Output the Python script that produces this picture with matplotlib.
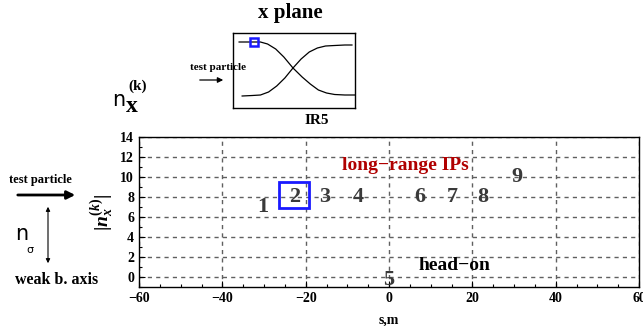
import matplotlib.pyplot as plt
from matplotlib.patches import Rectangle
from matplotlib.ticker import MultipleLocator

# interaction points: index, position s [m], |n_x^(k)|
ip_labels = ["1", "2", "3", "4", "5", "6", "7", "8", "9"]
ip_s = [-30.2, -22.7, -15.4, -7.4, 0.0, 7.4, 15.2, 22.6, 30.6]
ip_n = [7.0, 8.0, 8.0, 8.0, -0.3, 8.0, 8.0, 8.0, 10.0]

# sketch of the two beam orbits around IR5
orb1_s = [-54, -43, -33, -26, -18, -10, -1.0, 8, 16, 24, 32, 40, 50, 60]
orb1_x = [66, 66, 66, 64, 59, 51, 40, 31, 24, 18, 15, 13.5, 13, 13]
orb2_s = [-51, -41, -33, -25, -17, -9, -1.0, 7, 15, 23, 31, 40, 50, 57]
orb2_x = [12, 12.5, 13, 16, 22, 30, 40, 49, 56, 60, 62, 62.5, 63, 63]

xticks = [-60, -40, -20, 0, 20, 40, 60]
yticks = [0, 2, 4, 6, 8, 10, 12, 14]

serif = "Liberation Serif"
plt.rcParams["font.family"] = serif
plt.rcParams["font.weight"] = "bold"
plt.rcParams["mathtext.fontset"] = "custom"
plt.rcParams["mathtext.rm"] = "Liberation Serif:bold"
plt.rcParams["mathtext.it"] = "Liberation Serif:bold:italic"
plt.rcParams["mathtext.bf"] = "Liberation Serif:bold"

fig = plt.figure(figsize=(6.43, 3.26), dpi=100)

# main plot
ax = fig.add_axes([139 / 643, 1 - 287 / 326, 500 / 643, 150 / 326])
ax.set_xlim(-60, 60)
ax.set_ylim(-1, 14)
ax.set_xticks(xticks)
ax.set_yticks(yticks)
ax.xaxis.set_minor_locator(MultipleLocator(5))
ax.yaxis.set_minor_locator(MultipleLocator(1))
ax.tick_params(which="both", direction="in", labelsize=10, width=0.8)
ax.tick_params(which="major", length=4)
ax.tick_params(which="minor", length=2)
for lab in ax.get_xticklabels() + ax.get_yticklabels():
    lab.set_fontweight("bold")
ax.grid(True, which="major", color="#606060", linestyle=(0, (3, 3)), linewidth=1.0)
for sp in ax.spines.values():
    sp.set_linewidth(1.0)

for lab, s, n in zip(ip_labels, ip_s, ip_n):
    ax.text(s, n, lab, fontsize=16, fontweight="bold", color="#3a3a3a",
            ha="center", va="center")

# highlight the IP the test particle sits at
ax.add_patch(Rectangle((-26.4, 6.9), 7.2, 2.6, fill=False,
                       edgecolor="#1a1aff", linewidth=2.0, zorder=5))

ax.text(4, 11.2, "long\u2212range IPs", color="#b00000", fontsize=14,
        fontweight="bold", ha="center", va="center")
ax.text(15.8, 1.2, "head\u2212on", color="black", fontsize=14,
        fontweight="bold", ha="center", va="center")

ax.set_xlabel("s,m", fontsize=10, fontweight="bold", labelpad=6)
ax.set_ylabel(r"$|n_x^{(k)}|$", fontsize=14, labelpad=3)

# inset orbit sketch
ins = fig.add_axes([233 / 643, 1 - 108 / 326, 122 / 643, 75 / 326])
ins.set_xlim(-60, 60)
ins.set_ylim(0, 75)
ins.set_xticks([])
ins.set_yticks([])
for sp in ins.spines.values():
    sp.set_linewidth(1.0)
ins.plot(orb1_s, orb1_x, color="black", linewidth=0.9)
ins.plot(orb2_s, orb2_x, color="black", linewidth=0.9)
ins.plot([-39.3], [66], marker="s", markersize=6,
         markerfacecolor="none", markeredgecolor="#1a1aff", markeredgewidth=1.8)

fig.text(290 / 643, 1 - 13 / 326, "x plane", fontsize=15, fontweight="bold",
         ha="center", va="center")
fig.text(317 / 643, 1 - 120 / 326, "IR5", fontsize=11, fontweight="bold",
         ha="center", va="center")
fig.text(218 / 643, 1 - 67 / 326, "test particle", fontsize=8, fontweight="bold",
         ha="center", va="center")

fig.text(125 / 643, 1 - 100 / 326, "n", family="DejaVu Sans", fontsize=15,
         fontweight="normal", ha="right", va="center")
fig.text(126 / 643, 1 - 106 / 326, "x", fontsize=17, fontweight="bold",
         ha="left", va="center")
fig.text(128 / 643, 1 - 86 / 326, "(k)", fontsize=11, fontweight="bold",
         ha="left", va="center")

# arrows
fig.add_artist(plt.Annotation("", xy=(226 / 643, 1 - 80 / 326),
                              xytext=(197 / 643, 1 - 80 / 326),
                              xycoords="figure fraction",
                              arrowprops=dict(arrowstyle="-|>", color="black",
                                              lw=0.9, mutation_scale=8)))
fig.text(40 / 643, 1 - 180 / 326, "test particle", fontsize=9, fontweight="bold",
         ha="center", va="center")
fig.add_artist(plt.Annotation("", xy=(78 / 643, 1 - 195 / 326),
                              xytext=(15 / 643, 1 - 195 / 326),
                              xycoords="figure fraction",
                              arrowprops=dict(arrowstyle="-|>", color="black",
                                              lw=2.0, mutation_scale=12)))
fig.add_artist(plt.Annotation("", xy=(48 / 643, 1 - 266 / 326),
                              xytext=(48 / 643, 1 - 204 / 326),
                              xycoords="figure fraction",
                              arrowprops=dict(arrowstyle="<|-|>", color="black",
                                              lw=0.8, mutation_scale=6)))
fig.text(22 / 643, 1 - 234 / 326, "n", family="DejaVu Sans", fontsize=15,
         fontweight="normal", ha="center", va="center")
fig.text(30 / 643, 1 - 250 / 326, "\u03c3", family="DejaVu Sans", fontsize=8,
         fontweight="normal", ha="center", va="center")
fig.text(57 / 643, 1 - 280 / 326, "weak b. axis", fontsize=11.5, fontweight="bold",
         ha="center", va="center")

fig.savefig("out.png", dpi=100)
